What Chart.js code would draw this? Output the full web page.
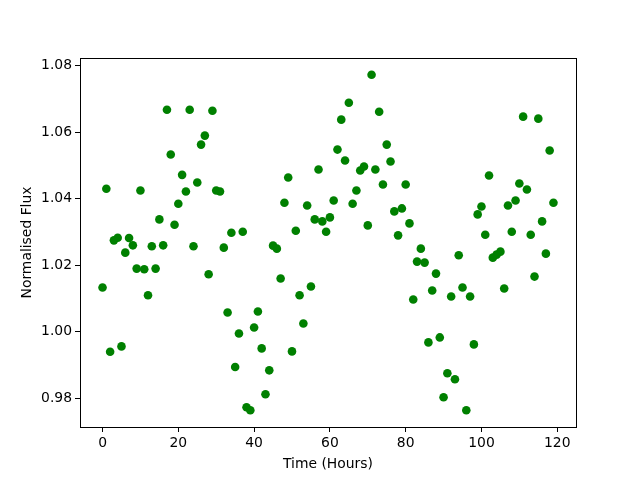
<!DOCTYPE html>
<html>
<head>
<meta charset="utf-8">
<script src="https://cdn.jsdelivr.net/npm/chart.js@4"></script>
<style>
  html, body { margin: 0; padding: 0; background: #fff; }
  #wrap { width: 640px; height: 480px; }
</style>
</head>
<body>
<div id="wrap"><canvas id="c" width="640" height="480"></canvas></div>
<script>
// hours since start
const hours = Array.from({length: 120}, (_, i) => i);

// normalised flux, one per hour
const flux = [
  1.0133, 1.0430, 0.9940, 1.0275, 1.0283, 0.9956, 1.0238, 1.0282, 1.0260, 1.0190,
  1.0425, 1.0188, 1.0110, 1.0257, 1.0190, 1.0338, 1.0260, 1.0668, 1.0533, 1.0322,
  1.0385, 1.0472, 1.0422, 1.0668, 1.0257, 1.0449, 1.0563, 1.0590, 1.0173, 1.0665,
  1.0425, 1.0422, 1.0253, 1.0058, 1.0298, 0.9894, 0.9995, 1.0301, 0.9773, 0.9764,
  1.0013, 1.0061, 0.9950, 0.9812, 0.9884, 1.0259, 1.0250, 1.0160, 1.0388, 1.0464,
  0.9941, 1.0304, 1.0110, 1.0025, 1.0380, 1.0136, 1.0338, 1.0488, 1.0332, 1.0301,
  1.0344, 1.0395, 1.0548, 1.0638, 1.0515, 1.0689, 1.0385, 1.0425, 1.0485, 1.0497,
  1.0320, 1.0773, 1.0488, 1.0662, 1.0443, 1.0563, 1.0512, 1.0362, 1.0290, 1.0371,
  1.0443, 1.0326, 1.0097, 1.0211, 1.0250, 1.0208, 0.9968, 1.0124, 1.0175, 0.9983,
  0.9803, 0.9875, 1.0106, 0.9857, 1.0230, 1.0133, 0.9764, 1.0106, 0.9962, 1.0353,
  1.0377, 1.0292, 1.0470, 1.0223, 1.0232, 1.0241, 1.0130, 1.0380, 1.0301, 1.0395,
  1.0446, 1.0647, 1.0428, 1.0292, 1.0166, 1.0641, 1.0332, 1.0235, 1.0545, 1.0388
];

const xTicks = [0, 20, 40, 60, 80, 100, 120];
const yTicks = [0.98, 1.00, 1.02, 1.04, 1.06, 1.08];

// matplotlib style 5% margins
const pad = (lo, hi) => [lo - (hi - lo) * 0.05, hi + (hi - lo) * 0.05];
const [xMin, xMax] = pad(Math.min(...hours), Math.max(...hours));
const [yMin, yMax] = pad(Math.min(...flux), Math.max(...flux));

const FONT = {family: 'DejaVu Sans', size: 13.9};

// draws top and right spines so the plot is boxed
const frame = {
  id: 'frame',
  afterDraw(chart) {
    const {ctx, chartArea: a} = chart;
    ctx.save();
    ctx.strokeStyle = '#000';
    ctx.lineWidth = 1;
    ctx.strokeRect(Math.round(a.left) + 0.5, Math.round(a.top) + 0.5,
      Math.round(a.right - a.left), Math.round(a.bottom - a.top));
    ctx.restore();
  }
};

new Chart(document.getElementById('c'), {
  type: 'scatter',
  data: {
    datasets: [{
      data: hours.map((h, i) => ({x: h, y: flux[i]})),
      backgroundColor: '#008000',
      borderWidth: 0,
      pointRadius: 4.3,
      pointHoverRadius: 4.3
    }]
  },
  options: {
    responsive: false,
    animation: false,
    events: [],
    layout: {padding: {top: 58, right: 64, left: 19, bottom: 7}},
    plugins: {legend: {display: false}, tooltip: {enabled: false}},
    scales: {
      x: {
        type: 'linear',
        min: xMin,
        max: xMax,
        afterBuildTicks: s => { s.ticks = xTicks.map(v => ({value: v})); },
        afterFit: s => { s.height = 46; },
        grid: {drawOnChartArea: false, drawTicks: true, tickLength: 5, color: '#000'},
        border: {color: '#000', width: 1},
        ticks: {color: '#000', font: FONT, padding: 3, maxRotation: 0},
        title: {display: true, text: 'Time (Hours)', color: '#000', font: FONT, padding: {top: 5, bottom: 0}}
      },
      y: {
        type: 'linear',
        min: yMin,
        max: yMax,
        afterBuildTicks: s => { s.ticks = yTicks.map(v => ({value: v})); },
        afterFit: s => { s.width = 61; },
        grid: {drawOnChartArea: false, drawTicks: true, tickLength: 5, color: '#000'},
        border: {color: '#000', width: 1},
        ticks: {color: '#000', font: FONT, padding: 3, callback: v => v.toFixed(2)},
        title: {display: true, text: 'Normalised Flux', color: '#000', font: FONT, padding: {top: 0, bottom: 0}}
      }
    }
  },
  plugins: [frame]
});
</script>
</body>
</html>
